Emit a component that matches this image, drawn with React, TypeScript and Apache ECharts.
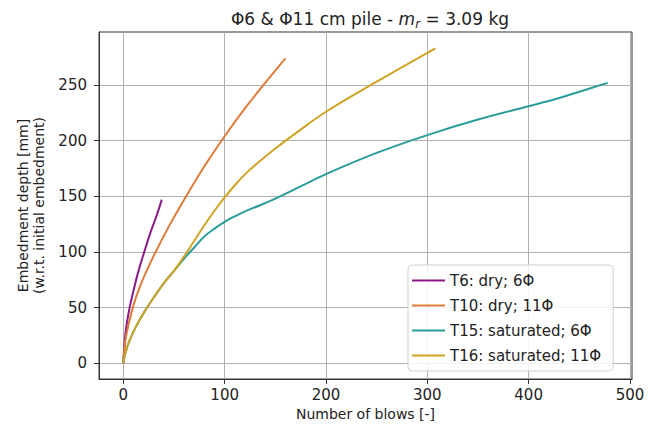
import React, { useEffect, useRef } from "react";
import * as echarts from "echarts";

const xTicks = [0, 100, 200, 300, 400, 500];
const yTicks = [0, 50, 100, 150, 200, 250];

const seriesNames = ["T6: dry; 6Φ", "T10: dry; 11Φ", "T15: saturated; 6Φ", "T16: saturated; 11Φ"];
const seriesColors = ["#8b1a8b", "#e07b39", "#2a9d9a", "#d1a322"];

const t6Blows = [0, 1, 3, 6, 10, 15, 21, 27, 33, 38];
const t6Depth = [0, 16, 33, 49, 65, 83, 101, 118, 133, 147];

const t10Blows = [0, 2, 5, 10, 16, 24, 33, 45, 60, 80, 100, 120, 140, 160];
const t10Depth = [0, 20, 34, 52, 68, 85, 102, 123, 147, 177, 204, 229, 252, 274];

const t15Blows = [0, 2, 6, 12, 20, 30, 40, 50, 60, 70, 80, 90, 100, 110, 120, 135, 150, 175, 200, 250, 300, 350, 400, 425, 450, 478];
const t15Depth = [0, 9, 20, 32, 45, 59, 72, 83, 94, 104, 114, 121, 127, 132, 136.5, 142, 148, 159, 170, 189, 205, 219, 231, 237, 244, 252];

const t16Blows = [0, 2, 6, 12, 20, 30, 40, 50, 60, 70, 80, 90, 100, 112, 125, 150, 175, 200, 250, 308];
const t16Depth = [0, 9, 20, 32, 45, 59, 72, 83, 96, 110, 124, 137, 149, 162, 174, 193, 210, 226, 253, 283];

const blows = [t6Blows, t10Blows, t15Blows, t16Blows];
const depths = [t6Depth, t10Depth, t15Depth, t16Depth];

const FONT = "DejaVu Sans";

export default function App() {
  const ref = useRef<HTMLDivElement>(null);
  useEffect(() => {
    if (!ref.current) return;
    const chart = echarts.init(ref.current, undefined, { renderer: "svg" });
    const series = seriesNames.map((name, i) => ({
      name,
      type: "line",
      data: blows[i].map((b, j) => [b, depths[i][j]]),
      showSymbol: false,
      symbol: "none",
      smooth: 0.35,
      lineStyle: { color: seriesColors[i], width: 2 },
      itemStyle: { color: seriesColors[i] },
      z: 3 + i,
    }));
    chart.setOption({
      animation: false,
      textStyle: { fontFamily: FONT },
      title: {
        text: "Φ6 & Φ11 cm pile - {i|m}{s|r} = 3.09 kg",
        left: 365,
        top: 3,
        textAlign: "center",
        textStyle: {
          fontFamily: FONT,
          fontSize: 17,
          fontWeight: "normal",
          color: "#222",
          lineHeight: 22,
          rich: {
            i: { fontFamily: FONT, fontSize: 17, fontStyle: "italic", color: "#222", lineHeight: 22 },
            s: { fontFamily: FONT, fontSize: 12, fontStyle: "italic", color: "#222", lineHeight: 12, verticalAlign: "bottom" },
          },
        },
      },
      grid: { left: 99, right: 27, top: 32, bottom: 51, show: true, borderColor: "#333", borderWidth: 1, backgroundColor: "transparent" },
      legend: {
        orient: "vertical",
        left: 408,
        top: 265,
        icon: "rect",
        itemWidth: 33,
        itemHeight: 2,
        itemGap: 8,
        padding: [7, 12, 7, 4],
        backgroundColor: "rgba(255,255,255,0.85)",
        borderColor: "#d0d0d0",
        borderWidth: 1,
        borderRadius: 4,
        selectedMode: false,
        textStyle: { fontFamily: FONT, fontSize: 15, color: "#222", lineHeight: 17 },
        data: seriesNames,
      },
      xAxis: {
        type: "value",
        min: -24,
        max: 502,
        splitNumber: 5,
        name: "Number of blows [-]",
        nameLocation: "middle",
        nameGap: 28,
        nameTextStyle: { fontFamily: FONT, fontSize: 14, color: "#222" },
        axisLine: { show: true, onZero: false, lineStyle: { color: "#333", width: 1 } },
        axisTick: { show: true, inside: false, length: 5, customValues: xTicks, lineStyle: { color: "#333" } },
        axisLabel: { customValues: xTicks, fontFamily: FONT, fontSize: 15, color: "#222", margin: 8 },
        splitLine: { show: true, lineStyle: { color: "#b0b0b0", width: 1 } },
      },
      yAxis: {
        type: "value",
        min: -14.2,
        max: 297.7,
        splitNumber: 6,
        name: "Embedment depth [mm]\n(w.r.t. initial embedment)",
        nameLocation: "middle",
        nameGap: 52,
        nameTextStyle: { fontFamily: FONT, fontSize: 14, color: "#222", lineHeight: 16 },
        axisLine: { show: true, onZero: false, lineStyle: { color: "#333", width: 1 } },
        axisTick: { show: true, inside: false, length: 5, customValues: yTicks, lineStyle: { color: "#333" } },
        axisLabel: { customValues: yTicks, fontFamily: FONT, fontSize: 15, color: "#222", margin: 12 },
        splitLine: { show: true, lineStyle: { color: "#b0b0b0", width: 1 } },
      },
      series,
    });
    return () => chart.dispose();
  }, []);
  return (
    <div
      ref={ref}
      style={{ position: "fixed", left: 0, top: 0, width: 659, height: 430, background: "#fff" }}
    />
  );
}
